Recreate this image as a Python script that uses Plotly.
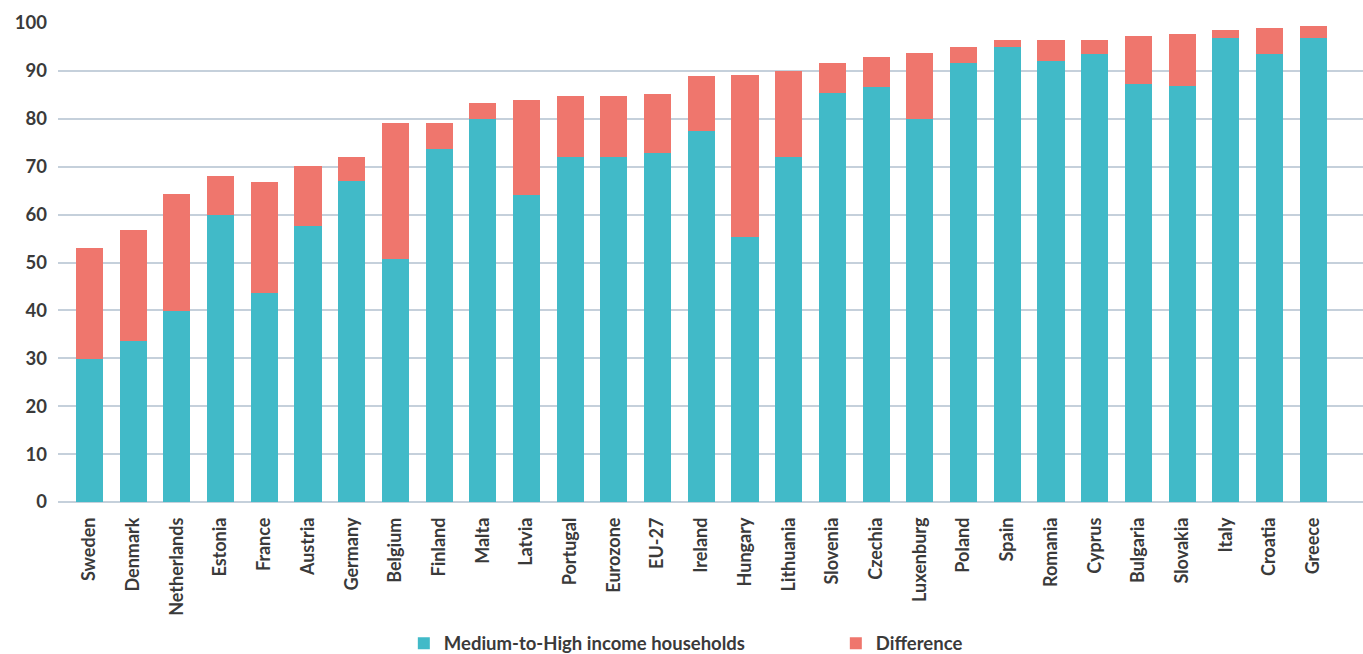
import plotly.graph_objects as go

countries = ["Sweden", "Denmark", "Netherlands", "Estonia", "France", "Austria", "Germany",
             "Belgium", "Finland", "Malta", "Latvia", "Portugal", "Eurozone", "EU-27",
             "Ireland", "Hungary", "Lithuania", "Slovenia", "Czechia", "Luxenburg", "Poland",
             "Spain", "Romania", "Cyprus", "Bulgaria", "Slovakia", "Italy", "Croatia", "Greece"]

medium_high = [29.9, 33.6, 39.9, 59.9, 43.6, 57.6, 67.0, 50.7, 73.7, 80.0, 64.1, 72.0, 72.0, 72.9,
               77.5, 55.3, 72.0, 85.4, 86.6, 80.0, 91.6, 95.0, 92.0, 93.6, 87.3, 86.9, 96.9, 93.6, 96.9]

totals = [53.0, 56.8, 64.3, 68.0, 66.8, 70.1, 72.0, 79.1, 79.1, 83.3, 83.9, 84.8, 84.8, 85.2,
          88.9, 89.1, 90.0, 91.6, 92.9, 93.7, 95.0, 96.5, 96.5, 96.5, 97.3, 97.7, 98.5, 99.0, 99.4]

difference = [round(t - m, 1) for t, m in zip(totals, medium_high)]

TEAL = "#41bac8"
RED = "#ef766d"
FONT = "Lato"

fig = go.Figure()
fig.add_trace(go.Bar(x=countries, y=medium_high, name="Medium-to-High income households",
                     marker=dict(color=TEAL, line=dict(width=0))))
fig.add_trace(go.Bar(x=countries, y=difference, name="Difference",
                     marker=dict(color=RED, line=dict(width=0))))

fig.update_layout(
    barmode="stack",
    bargap=0.38,
    width=1363, height=654,
    margin=dict(l=58, r=0, t=23, b=152, autoexpand=False),
    paper_bgcolor="white", plot_bgcolor="white",
    font=dict(family=FONT, color="#3a3a3a"),
    showlegend=True,
    legend=dict(orientation="h", x=0.265, xanchor="left", y=-0.256, yanchor="top",
                font=dict(family=FONT, size=18.5, color="#3a3a3a", weight="bold"),
                entrywidth=387, entrywidthmode="pixels", traceorder="normal"),
    xaxis=dict(range=[-0.72, 29.14], tickangle=-90, showgrid=False, showline=False,
               automargin=False, ticks="", ticklabelstandoff=11,
               tickfont=dict(family=FONT, size=18, color="#3a3a3a", weight="bold")),
    yaxis=dict(range=[0, 100], dtick=10, showgrid=True, gridcolor="#c5d0db", gridwidth=2,
               zeroline=True, zerolinecolor="#c5d0db", zerolinewidth=2, ticks="",
               automargin=False, ticklabelstandoff=10,
               tickfont=dict(family=FONT, size=18.5, color="#3a3a3a", weight="bold")),
)

fig.write_html("out.html")
